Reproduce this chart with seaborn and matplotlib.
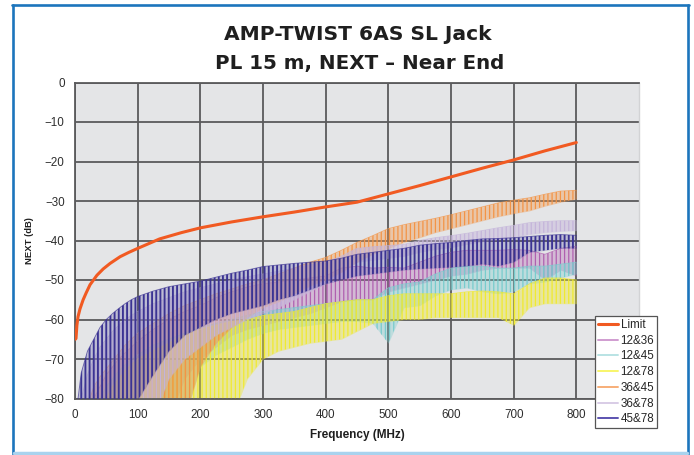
import matplotlib
matplotlib.use("Agg")
import matplotlib.pyplot as plt
import seaborn as sns
import pandas as pd
from matplotlib.lines import Line2D

# ---------------- data ----------------
limit_freq = [0.5, 1.6, 3, 4.8, 8, 13, 18, 24, 35, 45, 56, 72, 86, 100, 135, 170, 200,
              250, 300, 350, 400, 450, 500, 550, 600, 650, 700, 750, 800]
limit_db = [-65.0, -64.8, -61.5, -59.3, -57.3, -55.0, -53.2, -51.2, -48.8, -47.2, -45.8,
            -44.1, -43.0, -42.0, -39.6, -38.0, -36.8, -35.3, -34.0, -32.8, -31.5,
            -30.3, -28.2, -26.1, -23.9, -21.7, -19.6, -17.3, -15.2]

freq = [1, 10, 20, 30, 40, 50, 60, 70, 80, 90, 100, 125, 150, 175, 200, 225, 250, 275,
        300, 325, 350, 375, 400, 425, 450, 475, 500, 525, 550, 575, 600, 625, 650, 675,
        700, 725, 750, 775, 800]

p1236_hi = [-85, -85, -85, -80, -77, -74, -72, -70, -68.5, -67, -65.5, -62.5, -60, -58,
            -56.5, -54.5, -53, -51.8, -51, -50.5, -50, -49.5, -49, -47, -46.5, -47, -46.8,
            -47, -45.5, -44, -43, -42.5, -42.5, -42.5, -42.3, -42.5, -43.5, -42, -41.5]
p1236_lo = [-85, -85, -85, -85, -85, -85, -85, -85, -85, -85, -85, -85, -85, -75, -70, -67,
            -64, -62.5, -61.5, -60.5, -59.5, -58.5, -57, -55.5, -55, -55, -53, -52, -51,
            -50, -49, -48.5, -47.5, -47, -47, -47, -50, -47.5, -49]

p1245_hi = [-85, -85, -85, -85, -80, -77, -75, -73, -71.5, -70, -69, -66.5, -65, -63.5,
            -62, -61, -60, -59, -58, -57.5, -57, -56.5, -56, -55.5, -55, -55, -52, -51,
            -50.5, -48.5, -47, -46.5, -46.5, -47, -47, -46.5, -46.5, -46, -45.5]
p1245_lo = [-85, -85, -85, -85, -85, -85, -85, -85, -85, -85, -85, -85, -85, -85, -72, -69,
            -67, -65, -63.5, -62.5, -62, -61.5, -61, -60.5, -60.5, -61, -66, -57, -56.5,
            -54, -52.5, -52, -53, -53.5, -53, -51, -50.5, -49.5, -48.5]

p1278_hi = [-85, -85, -85, -85, -85, -80, -77, -75, -73, -71.5, -70, -68, -66, -64, -62.5,
            -61.5, -60.5, -60, -59, -58.5, -58, -57, -56, -55.5, -55, -55, -54, -53.5,
            -53.5, -53.5, -53.5, -53, -52.8, -53, -53.5, -51, -49.5, -49.5, -50]
p1278_lo = [-85, -85, -85, -85, -85, -85, -85, -85, -85, -85, -85, -85, -85, -85, -85, -85,
            -85, -75, -70, -68, -67, -66, -65.5, -65, -63, -61, -60.5, -60, -60, -59.5,
            -59.5, -59.5, -59.5, -59.5, -61.5, -57, -56, -56, -56]

p3645_hi = [-85, -85, -82, -77, -74.5, -72.5, -70.5, -68.5, -66.5, -65, -63.5, -61, -58.5,
            -56.5, -55, -53.5, -52.3, -51, -50, -48.5, -47, -45.5, -44.3, -42.5, -40.5,
            -38.8, -37, -36, -35.2, -34.4, -33.5, -32.5, -31.5, -30.5, -29.8, -29.2, -28.3,
            -27.5, -27.3]
p3645_lo = [-85, -85, -85, -85, -85, -85, -85, -85, -85, -85, -85, -85, -85, -85, -72, -66,
            -62, -59.5, -57, -55.5, -53.5, -51.5, -50, -48, -45.5, -43.5, -42, -40.5, -39.3,
            -38, -37, -36, -35, -34, -33.2, -32.5, -31.3, -30.3, -29.5]

p3678_hi = [-85, -80, -74, -70, -67, -65, -63, -61.5, -60, -59, -58, -56, -54.5, -53, -52,
            -51, -50, -49.2, -48.5, -47.8, -47, -46.2, -45.5, -44, -42, -41.6, -41.3, -41,
            -40, -39.3, -38.8, -38.2, -37.5, -36.8, -36.2, -35.5, -35.2, -35, -35]
p3678_lo = [-85, -85, -85, -85, -85, -85, -85, -85, -85, -85, -85, -85, -75, -70, -67, -64,
            -62, -60, -58.5, -57, -55, -53, -51, -48, -45.5, -45, -44.5, -44, -43, -42.3,
            -41.8, -41, -40.3, -39.8, -39.2, -38.5, -38, -37.7, -37.5]

p4578_hi = [-85, -73.5, -68, -65, -62, -60, -58.5, -57.2, -56, -55, -54.2, -52.8, -51.7, -51,
            -50.3, -49.3, -48.3, -47.5, -46.6, -46.2, -45.8, -45.5, -45.2, -44.5, -43.5, -43,
            -42.5, -42, -41.2, -40.8, -40.5, -40, -39.6, -39.5, -39.3, -39, -38.7, -38.5,
            -38.7]
p4578_lo = [-85, -85, -85, -85, -85, -85, -85, -85, -85, -85, -80.5, -74, -68, -64, -62, -60,
            -58.5, -57.5, -56.5, -55, -54, -52.5, -51, -50, -49, -48.5, -48, -47.5, -47.2,
            -47, -46.8, -46.5, -46, -46.5, -45.5, -43, -42.5, -42, -42]

pair_names = ["12&36", "12&45", "12&78", "36&45", "36&78", "45&78"]
pair_hi = [p1236_hi, p1245_hi, p1278_hi, p3645_hi, p3678_hi, p4578_hi]
pair_lo = [p1236_lo, p1245_lo, p1278_lo, p3645_lo, p3678_lo, p4578_lo]

x_ticks = [0, 100, 200, 300, 400, 500, 600, 700, 800]
y_ticks = [0, -10, -20, -30, -40, -50, -60, -70, -80]

# ---------------- styles ----------------
pair_colors = ["#b060b0", "#78cccd", "#f0ea30", "#f39446", "#c4b4da", "#3b3393"]
pair_alpha = [0.32, 0.35, 0.40, 0.38, 0.45, 0.22]
pair_hatch_lw = [0.9, 0.9, 0.9, 0.9, 0.9, 1.35]
legend_colors = ["#d09cd0", "#b9e3e4", "#f8f56a", "#f7ae78", "#d8cce6", "#5b52b0"]
limit_color = "#f15a22"
grid_c = "#5a5a5c"

sns.set_theme(style="white")
plt.rcParams['font.family'] = ['Liberation Sans', 'DejaVu Sans']

W, H = 694, 455
fig = plt.figure(figsize=(W / 100, H / 100), dpi=100)
fig.patch.set_facecolor("white")
ax_l, ax_r, ax_t, ax_b = 75, 639, 82.5, 398.5
ax = fig.add_axes([ax_l / W, 1 - ax_b / H, (ax_r - ax_l) / W, (ax_b - ax_t) / H])
ax.set_facecolor("#e4e5e7")

# measured pairs as bands between their peak and trough envelopes
for i, (name, hi, lo, c) in enumerate(zip(pair_names, pair_hi, pair_lo, pair_colors)):
    z = 2 + i * 0.1
    ax.fill_between(freq, lo, hi, facecolor=c, alpha=pair_alpha[i], linewidth=0, zorder=z)
    plt.rcParams['hatch.linewidth'] = pair_hatch_lw[i]
    hp = ax.fill_between(freq, lo, hi, facecolor="none", edgecolor=c, hatch="||||",
                         linewidth=0, zorder=z + 0.01)
    if hasattr(hp, "set_hatch_linewidth"):
        hp.set_hatch_linewidth(pair_hatch_lw[i])
    df = pd.DataFrame({"f": freq, "hi": hi})
    sns.lineplot(data=df, x="f", y="hi", ax=ax, color=c, lw=0.7, alpha=0.7, zorder=z + 0.02,
                 legend=False)

sns.lineplot(x=limit_freq, y=limit_db, ax=ax, color=limit_color, lw=2.2, zorder=4,
             legend=False)

ax.set_xlim(0, 900)
ax.set_ylim(-80, 0)
ax.set_xticks(x_ticks)
ax.set_yticks(y_ticks)
ax.grid(True, color=grid_c, lw=1.3, zorder=1)
ax.set_axisbelow(True)
for s in ["left", "bottom", "top"]:
    ax.spines[s].set_color(grid_c)
    ax.spines[s].set_linewidth(1.3)
ax.spines["right"].set_color("#d2d3d5")
ax.spines["right"].set_linewidth(1.0)
ax.tick_params(axis="both", length=3, width=1.0, color=grid_c, labelsize=8.4,
               labelcolor="#2e2e2e", pad=4.5)
ax.set_xlabel("Frequency (MHz)", fontsize=8.5, fontweight="bold", color="#1e1e1e",
              labelpad=6)
ax.set_ylabel("NEXT (dB)", fontsize=6.8, fontweight="bold", color="#1e1e1e", labelpad=8)

# titles
fig.text(358 / W, 1 - 39.5 / H, "AMP-TWIST 6AS SL Jack", ha="center", va="baseline",
         fontsize=14.6, fontweight="bold", family=["DejaVu Sans"], color="#1f1f1f")
fig.text(360 / W, 1 - 69 / H, "PL 15 m, NEXT \u2013 Near End", ha="center", va="baseline",
         fontsize=14.3, fontweight="bold", family=["DejaVu Sans"], color="#1f1f1f")

# legend
handles = [Line2D([], [], color=limit_color, lw=2.2)] + \
          [Line2D([], [], color=c, lw=1.4) for c in legend_colors]
labels = ["Limit"] + pair_names
leg = fig.legend(handles, labels, loc="upper left", bbox_to_anchor=(595 / W, 1 - 316 / H),
                 bbox_transform=fig.transFigure, fontsize=8.4, frameon=True,
                 fancybox=False, framealpha=1, edgecolor="#555555", borderpad=0.25,
                 labelspacing=0.32, handlelength=1.7, handletextpad=0.25,
                 borderaxespad=0)
leg.get_frame().set_linewidth(0.9)
leg.set_zorder(10)

# outer frame
blue = "#1c75bc"
light_blue = "#a9d3ee"
fx = lambda px: px / W
fy = lambda py: 1 - py / H
fig.add_artist(Line2D([fx(12.8), fx(12.8)], [fy(4.8), fy(454)], color=blue, lw=1.9))
fig.add_artist(Line2D([fx(12), fx(688.5)], [fy(4.8), fy(4.8)], color=blue, lw=1.9))
fig.add_artist(Line2D([fx(688), fx(688)], [fy(4.8), fy(454)], color=blue, lw=1.9))
fig.add_artist(Line2D([fx(14), fx(687)], [fy(453), fy(453)], color=light_blue, lw=2.5))

fig.savefig("out.png", dpi=100)
